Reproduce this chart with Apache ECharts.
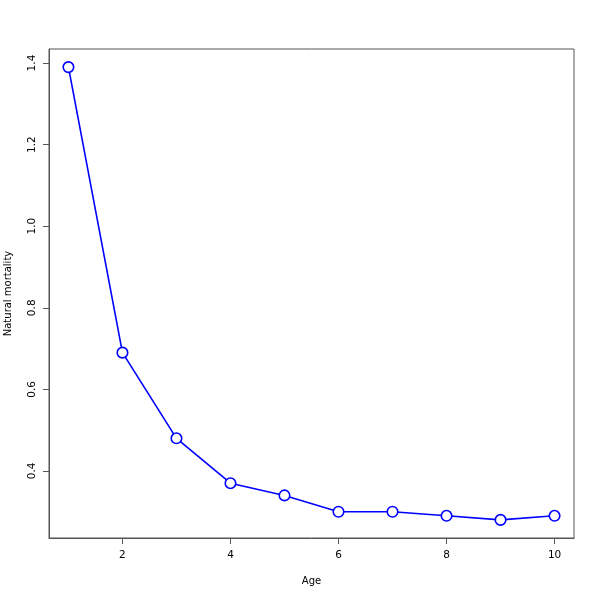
<!DOCTYPE html>
<html><head><meta charset="utf-8">
<script src="https://cdn.jsdelivr.net/npm/echarts@6/dist/echarts.min.js"></script>
<style>html,body{margin:0;padding:0;background:#fff}#c{width:600px;height:600px}</style>
</head><body><div id="c"></div>
<script>
const ages = [1, 2, 3, 4, 5, 6, 7, 8, 9, 10];
const mortality = [1.39, 0.69, 0.48, 0.37, 0.34, 0.30, 0.30, 0.29, 0.28, 0.29];
const xTicks = [2, 4, 6, 8, 10];
const yTicks = [0.4, 0.6, 0.8, 1.0, 1.2, 1.4];

const chart = echarts.init(document.getElementById('c'), null, {renderer: 'canvas'});
const font = 'DejaVu Sans, sans-serif';
chart.setOption({
  animation: false,
  backgroundColor: '#fff',
  grid: {left: 49, right: 26, top: 49, bottom: 62, containLabel: false, outerBoundsMode: 'none',
    show: true, borderColor: '#555', borderWidth: 1, backgroundColor: 'transparent'},
  xAxis: {
    type: 'value', min: 0.64, max: 10.36,
    name: 'Age', nameLocation: 'middle', nameGap: 38,
    nameTextStyle: {fontFamily: font, fontSize: 10, color: '#000'},
    axisLine: {show: true, lineStyle: {color: '#555'}},
    axisTick: {show: true, length: 6, customValues: xTicks, lineStyle: {color: '#555'}},
    axisLabel: {customValues: xTicks, margin: 12, fontFamily: font, fontSize: 10.5, color: '#000'},
    splitLine: {show: false}
  },
  yAxis: {
    type: 'value', min: 0.2356, max: 1.4344,
    name: 'Natural mortality', nameLocation: 'middle', nameGap: 36,
    nameTextStyle: {fontFamily: font, fontSize: 10, color: '#000'},
    axisLine: {show: true, lineStyle: {color: '#555'}},
    axisTick: {show: true, length: 6, customValues: yTicks, lineStyle: {color: '#555'}},
    axisLabel: {customValues: yTicks, rotate: 90, margin: 11, fontFamily: font, fontSize: 10.5, color: '#000',
      formatter: v => v.toFixed(1)},
    splitLine: {show: false}
  },
  series: [{
    type: 'line',
    data: ages.map((a, i) => [a, mortality[i]]),
    symbol: 'circle', symbolSize: 10.5,
    itemStyle: {color: '#fff', borderColor: '#0000ff', borderWidth: 1.6},
    lineStyle: {color: '#0000ff', width: 1.6},
    emphasis: {disabled: true}
  }]
});
</script></body></html>
